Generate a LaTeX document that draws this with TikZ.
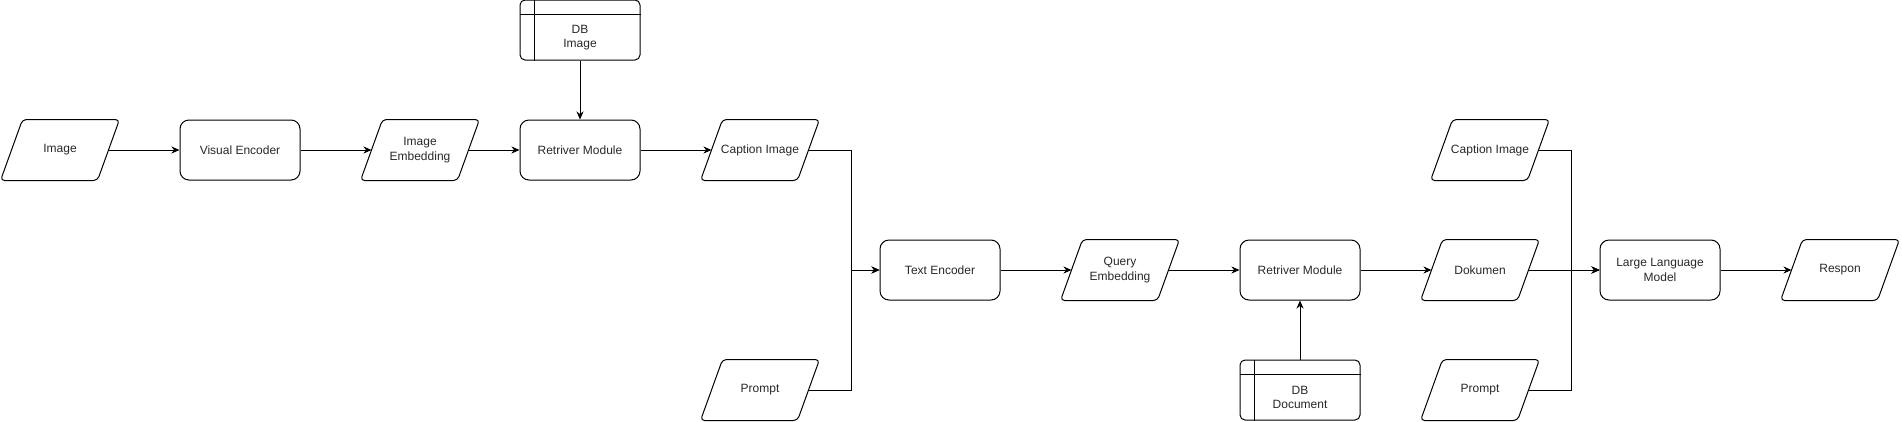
\documentclass[tikz,border=0pt]{standalone}
\usepackage{fontspec}
\setmainfont{Liberation Sans}
\usetikzlibrary{arrows.meta}
\definecolor{txtcol}{RGB}{40,40,40}
\begin{document}
\begin{tikzpicture}[x=1pt,y=-1pt,
 base/.style={font=\fontsize{12}{14.5}\selectfont, text=txtcol, align=center, inner sep=0pt, line width=1pt},
 proc/.style={base, draw, rounded corners=9pt, minimum width=120pt, minimum height=60pt},
 io/.style={base, minimum width=96pt, minimum height=60pt},
 dbbox/.style={base, draw, rounded corners=5pt, minimum width=120pt, minimum height=60pt},
 txt/.style={base},
 arr/.style={line width=1pt, -{Stealth[length=8pt,width=7pt,inset=2.5pt]}},
 para/.style={line width=1pt, rounded corners=4pt, line join=round}]
\useasboundingbox (0,0) rectangle (1902,421);

% processes
\node[proc] (ve)   at (240,150) {Visual Encoder};
\node[proc] (rm1)  at (580,150) {Retriver Module};
\node[proc] (te)   at (940,270) {Text Encoder};
\node[proc] (rm2)  at (1300,270) {Retriver Module};
\node[proc] (llm)  at (1660,270) {Large Language\\Model};

% input/output
\node[io] (img)  at (60,150)   {Image};
\node[io] (ie)   at (420,150)  {Image\\Embedding};
\node[io] (cap1) at (760,150)  {Caption Image};
\node[io] (pr1)  at (760,390)  {Prompt};
\node[io] (qe)   at (1120,270) {Query\\Embedding};
\node[io] (cap2) at (1490,150) {Caption Image};
\node[io] (dok)  at (1480,270) {Dokumen};
\node[io] (pr2)  at (1480,390) {Prompt};
\node[io] (res)  at (1840,270) {Respon};

\foreach \n in {img,ie,cap1,pr1,qe,cap2,dok,pr2,res}
  \draw[para] ([xshift=-11pt]\n.south west) -- ([xshift=11pt]\n.north west)
     -- ([xshift=11pt]\n.north east) -- ([xshift=-11pt]\n.south east) -- cycle;

% databases
\node[dbbox] (dbi) at (580,30) {};
\node[txt] (dbit) at ([yshift=-7.5pt]dbi.center) {DB\\Image};
\node[dbbox] (dbd) at (1300,390) {};
\node[txt] (dbdt) at ([yshift=-7.5pt]dbd.center) {DB\\Document};
\foreach \n in {dbi,dbd}{
  \draw[line width=1pt] ([yshift=-15pt]\n.north west) -- ([yshift=-15pt]\n.north east);
  \draw[line width=1pt] ([xshift=15pt]\n.north west) -- ([xshift=15pt]\n.south west);
}

% connectors
\coordinate (jl) at (851,270);
\coordinate (jr) at (1571,270);
\draw[arr] (img) -- (ve);
\draw[arr] (ve) -- (ie);
\draw[arr] (ie) -- (rm1);
\draw[arr] (dbi) -- (rm1);
\draw[arr] (rm1) -- (cap1);
\draw[arr] (cap1.east) -| (jl) -- (te.west);
\draw[arr] (pr1.east) -| (jl) -- (te.west);
\draw[arr] (te) -- (qe);
\draw[arr] (qe) -- (rm2);
\draw[arr] (dbd) -- (rm2);
\draw[arr] (rm2) -- (dok);
\draw[arr] (cap2.east) -| (jr) -- (llm.west);
\draw[arr] (dok) -- (llm);
\draw[arr] (pr2.east) -| (jr) -- (llm.west);
\draw[arr] (llm) -- (res);
\end{tikzpicture}
\end{document}
